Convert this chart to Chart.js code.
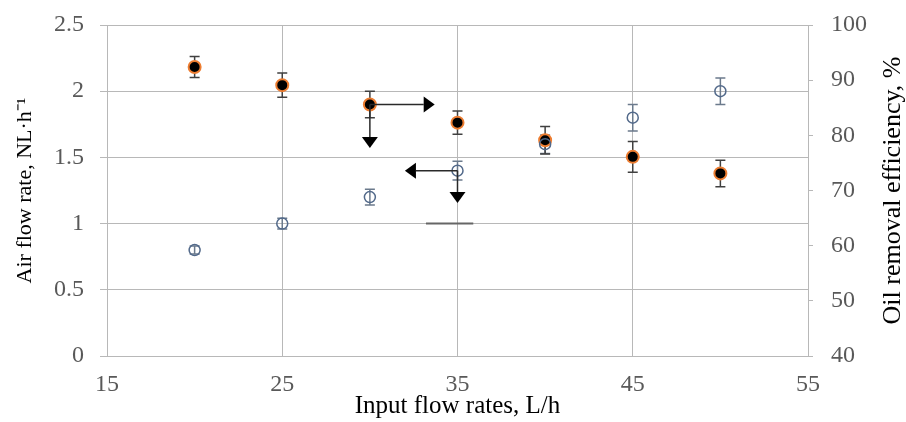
<!DOCTYPE html>
<html>
<head>
<meta charset="utf-8">
<script src="https://cdn.jsdelivr.net/npm/chart.js@4"></script>
<style>
  html, body { margin: 0; padding: 0; background: #fff; }
  #wrap { width: 906px; height: 422px; }
</style>
</head>
<body>
<div id="wrap"><canvas id="myChart"></canvas></div>
<script>
// values
var flowRates = [20, 25, 30, 35, 40, 45, 50];
var airFlow = [0.80, 1.00, 1.20, 1.40, 1.60, 1.80, 2.00];
var airFlowErr = [0.03, 0.04, 0.06, 0.07, 0.07, 0.10, 0.10];
var efficiency = [92.4, 89.1, 85.6, 82.3, 79.1, 76.1, 73.1];
var efficiencyErr = [1.9, 2.2, 2.4, 2.1, 2.5, 2.8, 2.4];

// reading arrows: [x0, y0, x1, y1, axis of y]
var arrows = [
    [30, 85.6, 33.7, 85.6, 'y1'],
    [30, 85.6, 30, 77.7, 'y1'],
    [35, 1.40, 32.0, 1.40, 'y'],
    [35, 1.40, 35, 1.155, 'y']
];
var marks = [
    [33.2, 1.0, 35.9, 1.0, 'y']
];

var serif = "'Liberation Serif', 'Times New Roman', serif";
var gridColor = '#b8b8b8';
var tickColor = '#595959';

var errorBars = {
    id: 'errorBars',
    beforeDatasetsDraw(chart) {
        var ctx = chart.ctx;
        var xs = chart.scales.x;
        var sets = [
            {axis: chart.scales.y, v: airFlow, e: airFlowErr, color: '#6b7a8c'},
            {axis: chart.scales.y1, v: efficiency, e: efficiencyErr, color: '#404040'}
        ];
        ctx.save();
        ctx.lineWidth = 1.5;
        sets.forEach(s => {
            ctx.strokeStyle = s.color;
            flowRates.forEach((x, i) => {
                var px = xs.getPixelForValue(x);
                var top = s.axis.getPixelForValue(s.v[i] + s.e[i]);
                var bot = s.axis.getPixelForValue(s.v[i] - s.e[i]);
                ctx.beginPath();
                ctx.moveTo(px, top); ctx.lineTo(px, bot);
                ctx.moveTo(px - 5, top); ctx.lineTo(px + 5, top);
                ctx.moveTo(px - 5, bot); ctx.lineTo(px + 5, bot);
                ctx.stroke();
            });
        });
        ctx.restore();
    }
};

var arrowsPlugin = {
    id: 'arrows',
    afterDatasetsDraw(chart) {
        var ctx = chart.ctx;
        var xs = chart.scales.x;
        ctx.save();
        ctx.strokeStyle = '#2a2a2a';
        ctx.fillStyle = '#000';
        ctx.lineWidth = 1.5;
        arrows.forEach(a => {
            var ys = chart.scales[a[4]];
            var x0 = xs.getPixelForValue(a[0]), y0 = ys.getPixelForValue(a[1]);
            var x1 = xs.getPixelForValue(a[2]), y1 = ys.getPixelForValue(a[3]);
            var ang = Math.atan2(y1 - y0, x1 - x0);
            var len = 11, half = 8;
            var bx = x1 - len * Math.cos(ang), by = y1 - len * Math.sin(ang);
            ctx.beginPath();
            ctx.moveTo(x0, y0); ctx.lineTo(bx, by);
            ctx.stroke();
            ctx.beginPath();
            ctx.moveTo(x1, y1);
            ctx.lineTo(bx + half * Math.sin(ang), by - half * Math.cos(ang));
            ctx.lineTo(bx - half * Math.sin(ang), by + half * Math.cos(ang));
            ctx.closePath();
            ctx.fill();
        });
        ctx.strokeStyle = '#666';
        ctx.lineWidth = 2;
        marks.forEach(m => {
            var ys = chart.scales[m[4]];
            ctx.beginPath();
            ctx.moveTo(xs.getPixelForValue(m[0]), ys.getPixelForValue(m[1]));
            ctx.lineTo(xs.getPixelForValue(m[2]), ys.getPixelForValue(m[3]));
            ctx.stroke();
        });
        ctx.restore();
    }
};

// right title reads bottom to top, like the left one
var rightTitle = {
    id: 'rightTitle',
    afterDraw(chart) {
        var ctx = chart.ctx;
        var area = chart.chartArea;
        ctx.save();
        ctx.translate(893, (area.top + area.bottom) / 2);
        ctx.rotate(-Math.PI / 2);
        ctx.font = '26px ' + serif;
        ctx.fillStyle = '#000';
        ctx.textAlign = 'center';
        ctx.textBaseline = 'middle';
        ctx.fillText('Oil removal efficiency, %', 0, 0);
        ctx.restore();
    }
};

const config = {
    type: 'scatter',
    data: {
        datasets: [
            {
                label: 'Air flow rate',
                data: flowRates.map((x, i) => ({x: x, y: airFlow[i]})),
                yAxisID: 'y',
                pointRadius: 5.5,
                pointBackgroundColor: 'rgba(255,255,255,0)',
                pointBorderColor: '#52698a',
                pointBorderWidth: 1.5
            },
            {
                label: 'Oil removal efficiency',
                data: flowRates.map((x, i) => ({x: x, y: efficiency[i]})),
                yAxisID: 'y1',
                pointRadius: 6,
                pointBackgroundColor: '#000',
                pointBorderColor: '#ed7d31',
                pointBorderWidth: 2
            }
        ]
    },
    options: {
        responsive: true,
        maintainAspectRatio: false,
        animation: false,
        layout: {padding: {top: 25, left: 0, right: 0, bottom: 0}},
        plugins: {
            legend: {display: false},
            tooltip: {enabled: false}
        },
        scales: {
            x: {
                type: 'linear',
                min: 15, max: 55,
                ticks: {stepSize: 10, color: tickColor, font: {family: serif, size: 24}, padding: 14},
                grid: {color: gridColor, drawTicks: false},
                border: {color: gridColor},
                title: {display: true, text: 'Input flow rates, L/h', color: '#000',
                        font: {family: serif, size: 25}, padding: {top: 0, bottom: 1}},
                afterFit: s => { s.height = 66; }
            },
            y: {
                position: 'left',
                min: 0, max: 2.5,
                ticks: {stepSize: 0.5, color: tickColor, font: {family: serif, size: 24}, padding: 16,
                        callback: v => String(v)},
                grid: {color: gridColor, tickLength: 7},
                border: {color: gridColor},
                title: {display: true, text: 'Air flow rate, NL·h⁻¹', color: '#000',
                        font: {family: serif, size: 22}, padding: {top: 12, bottom: 0}},
                afterFit: s => { s.width = 107; s.paddingTop = 0; s.paddingBottom = 0; }
            },
            y1: {
                position: 'right',
                min: 40, max: 100,
                ticks: {stepSize: 10, color: tickColor, font: {family: serif, size: 24}, padding: 18},
                grid: {drawOnChartArea: false, color: gridColor, tickLength: 5},
                border: {color: gridColor},
                afterFit: s => { s.width = 98; s.paddingTop = 0; s.paddingBottom = 0; }
            }
        }
    },
    plugins: [errorBars, arrowsPlugin, rightTitle]
};

var myChart = new Chart(document.getElementById('myChart'), config);
</script>
</body>
</html>
